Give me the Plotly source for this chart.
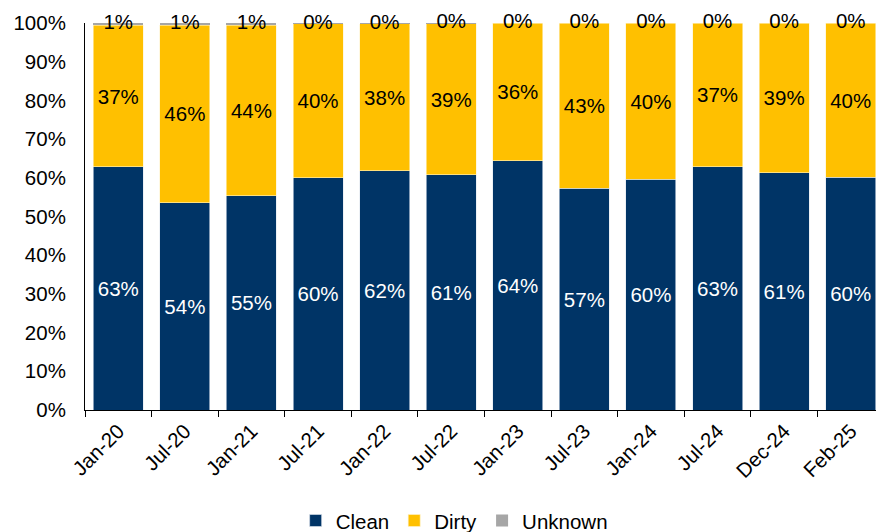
import plotly.graph_objects as go

# Share of clean / dirty / unknown, in percent
periods = ['Jan-20', 'Jul-20', 'Jan-21', 'Jul-21', 'Jan-22', 'Jul-22',
           'Jan-23', 'Jul-23', 'Jan-24', 'Jul-24', 'Dec-24', 'Feb-25']
clean = [62.8, 53.6, 55.3, 60.0, 61.8, 60.8, 64.4, 57.3, 59.6, 62.9, 61.3, 60.2]
dirty = [36.6, 45.8, 44.1, 39.8, 38.0, 39.1, 35.6, 42.7, 40.4, 37.1, 38.7, 39.8]
unknown = [0.6, 0.6, 0.6, 0.2, 0.2, 0.1, 0.0, 0.0, 0.0, 0.0, 0.0, 0.0]

FONT = 'Liberation Sans, Arial, sans-serif'
FS = 20.5
NAVY = '#003466'
GOLD = '#FFC000'
GREY = '#A6A6A6'

fig = go.Figure()

fig.add_trace(go.Bar(
    x=periods, y=clean, name='Clean',
    marker=dict(color=NAVY, line=dict(color='#dfe6ee', width=0.6)),
    texttemplate='%{y:.0f}%', textposition='inside', insidetextanchor='middle',
    textfont=dict(color='white', size=FS, family=FONT),
    constraintext='none',
))
fig.add_trace(go.Bar(
    x=periods, y=dirty, name='Dirty',
    marker=dict(color=GOLD, line=dict(color='#fff3cc', width=0.6)),
    texttemplate='%{y:.0f}%', textposition='inside', insidetextanchor='middle',
    textfont=dict(color='black', size=FS, family=FONT),
    constraintext='none',
))
fig.add_trace(go.Bar(
    x=periods, y=unknown, name='Unknown',
    marker=dict(color=GREY, line=dict(width=0)),
    textposition='none',
))

# labels for the thin "unknown" slice, centred on it
tops = [c + d + u / 2 for c, d, u in zip(clean, dirty, unknown)]
fig.add_trace(go.Scatter(
    x=periods, y=tops, mode='text',
    text=[f'{u:.0f}%' for u in unknown],
    textposition='middle center',
    textfont=dict(color='black', size=FS, family=FONT),
    showlegend=False, hoverinfo='skip', cliponaxis=False,
))

# page body has an 8px default margin, so the figure is a bit smaller
fig.update_layout(
    barmode='stack',
    bargap=0.25,
    width=876, height=524,
    margin=dict(l=77, r=0, t=15, b=122, autoexpand=False),
    plot_bgcolor='white', paper_bgcolor='white',
    font=dict(family=FONT, size=FS, color='black'),
    legend=dict(
        orientation='h', x=0.462, xanchor='center', y=-0.286, yanchor='middle',
        font=dict(size=FS), itemwidth=30, tracegroupgap=0,
        traceorder='normal',
    ),
    showlegend=True,
)
fig.update_xaxes(
    type='category', range=[-0.5, len(periods) - 0.5],
    tickangle=-45, showline=True, linecolor='black',
    linewidth=1, ticks='outside', tickson='boundaries', ticklen=6,
    tickcolor='black', showgrid=False, tickfont=dict(size=FS),
    automargin=False,
)
fig.update_yaxes(
    range=[0, 100], dtick=10, ticksuffix='%', showline=True,
    linecolor='black', linewidth=1, showgrid=False, zeroline=False,
    tickfont=dict(size=FS), ticks='', ticklabelstandoff=14,
    automargin=False,
)

fig.write_html("out.html")
